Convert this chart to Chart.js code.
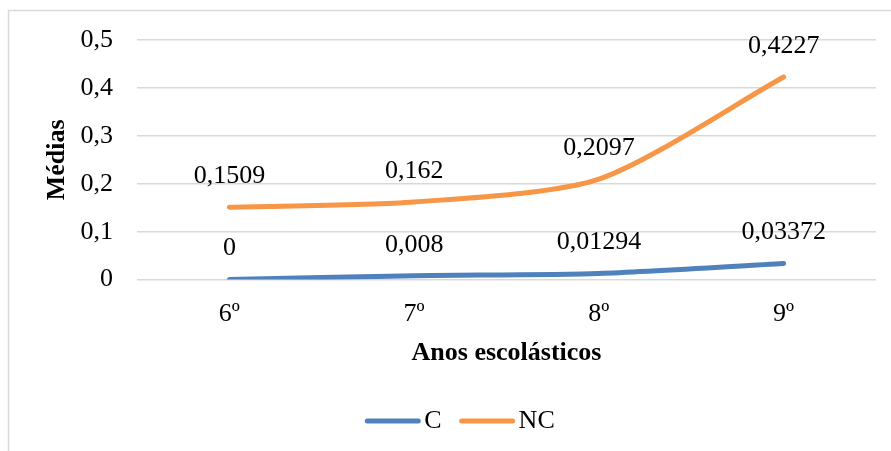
<!DOCTYPE html>
<html>
<head>
<meta charset="utf-8">
<script src="https://cdn.jsdelivr.net/npm/chart.js@4/dist/chart.umd.min.js"></script>
<style>
  html, body { margin: 0; padding: 0; background: #fff; }
  #wrap { width: 891px; height: 451px; }
</style>
</head>
<body>
<div id="wrap"><canvas id="line-chart" width="891" height="451"></canvas></div>
<script>
const anos = ["6º", "7º", "8º", "9º"];
const serieC = [0, 0.008, 0.01294, 0.03372];
const serieNC = [0.1509, 0.162, 0.2097, 0.4227];
const yTicks = [0, 0.1, 0.2, 0.3, 0.4, 0.5];

const serif = "'Liberation Serif', 'Times New Roman', serif";
const virgula = v => String(v).replace('.', ',');

// outer chart frame, like the Excel chart border
const frame = {
  id: 'frame',
  beforeDraw(chart) {
    const ctx = chart.ctx;
    ctx.save();
    ctx.strokeStyle = '#d9d9d9';
    ctx.lineWidth = 1.5;
    ctx.strokeRect(8.5, 10.5, 1000, 1000);
    ctx.restore();
  }
};

// value labels above each point
const rotulos = {
  id: 'rotulos',
  afterDatasetsDraw(chart) {
    const ctx = chart.ctx;
    ctx.save();
    ctx.font = '26px ' + serif;
    ctx.fillStyle = '#000';
    ctx.textAlign = 'center';
    ctx.textBaseline = 'middle';
    chart.data.datasets.forEach((ds, i) => {
      chart.getDatasetMeta(i).data.forEach((pt, j) => {
        ctx.fillText(virgula(ds.data[j]), pt.x, pt.y - 31);
      });
    });
    ctx.restore();
  }
};

// legend at the bottom: short line + name
const legenda = {
  id: 'legenda',
  afterDraw(chart) {
    const ctx = chart.ctx;
    const y = 421;
    ctx.save();
    ctx.font = '26px ' + serif;
    ctx.textBaseline = 'middle';
    const items = chart.data.datasets.map(ds => ({ ds, w: 55 + 4 + ctx.measureText(ds.label).width }));
    const gap = 18;
    const total = items.reduce((s, it) => s + it.w, 0) + gap * (items.length - 1);
    let x = 460 - total / 2;
    items.forEach(it => {
      ctx.strokeStyle = it.ds.borderColor;
      ctx.lineWidth = 5;
      ctx.lineCap = 'round';
      ctx.beginPath();
      ctx.moveTo(x + 2, y);
      ctx.lineTo(x + 53, y);
      ctx.stroke();
      ctx.fillStyle = '#000';
      ctx.fillText(it.ds.label, x + 59, y);
      x += it.w + gap;
    });
    ctx.restore();
  }
};

new Chart(document.getElementById("line-chart"), {
  type: 'line',
  data: {
    labels: anos,
    datasets: [
      {
        label: "C",
        data: serieC,
        borderColor: "#4f81bd",
        backgroundColor: "#4f81bd",
        borderWidth: 5,
        borderCapStyle: 'round',
        pointRadius: 0,
        tension: 0.25
      }, {
        label: "NC",
        data: serieNC,
        borderColor: "#f79646",
        backgroundColor: "#f79646",
        borderWidth: 5,
        borderCapStyle: 'round',
        pointRadius: 0,
        tension: 0.25
      }
    ]
  },
  options: {
    responsive: false,
    animation: false,
    layout: { padding: { top: 40, right: 15, bottom: 82, left: 0 } },
    plugins: {
      legend: { display: false },
      tooltip: { enabled: false }
    },
    scales: {
      x: {
        offset: true,
        grid: { display: false, drawTicks: false },
        border: { display: false },
        ticks: { color: '#000', padding: 19, font: { family: serif, size: 26 } },
        title: {
          display: true,
          text: 'Anos escolásticos',
          color: '#000',
          padding: { top: -11, bottom: 0 },
          font: { family: serif, size: 26, weight: 'bold' }
        }
      },
      y: {
        min: 0,
        max: 0.5,
        afterBuildTicks(scale) { scale.ticks = yTicks.map(v => ({ value: v })); },
        afterFit(scale) { scale.width = 137; },
        grid: { color: '#d9d9d9', lineWidth: 1.5, drawTicks: false },
        border: { display: false },
        ticks: { color: '#000', padding: 24, font: { family: serif, size: 26 }, callback: v => virgula(v) },
        title: {
          display: true,
          text: 'Médias',
          color: '#000',
          padding: { top: 42, bottom: 0 },
          font: { family: serif, size: 26, weight: 'bold' }
        }
      }
    }
  },
  plugins: [frame, rotulos, legenda]
});
</script>
</body>
</html>
